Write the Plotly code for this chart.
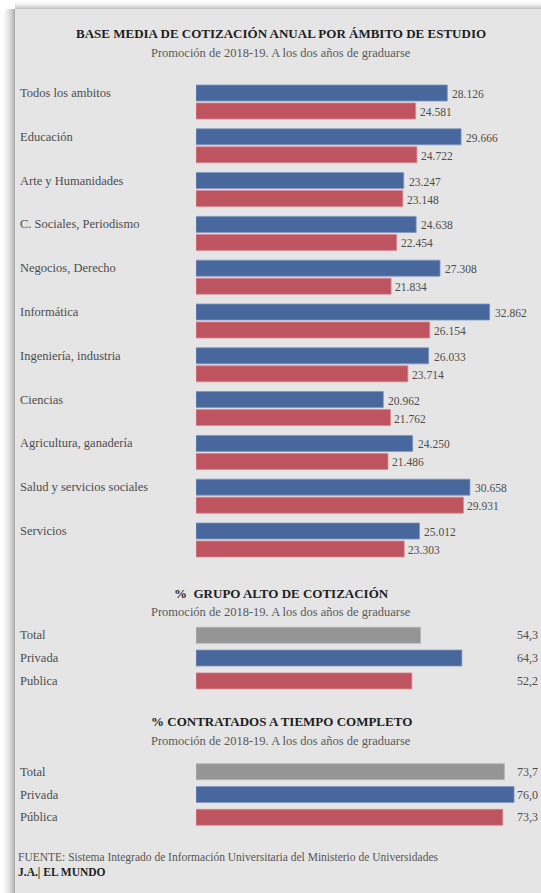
import plotly.graph_objects as go

W, H = 541, 893

# ---------------- data ----------------
ambitos = ["Todos los ambitos", "Educación", "Arte y Humanidades", "C. Sociales, Periodismo",
           "Negocios, Derecho", "Informática", "Ingeniería, industria", "Ciencias",
           "Agricultura, ganadería", "Salud y servicios sociales", "Servicios"]
privada = [28126, 29666, 23247, 24638, 27308, 32862, 26033, 20962, 24250, 30658, 25012]
publica = [24581, 24722, 23148, 22454, 21834, 26154, 23714, 21762, 21486, 29931, 23303]

grupo_cats = ["Total", "Privada", "Publica"]
grupo_vals = [54.3, 64.3, 52.2]

completo_cats = ["Total", "Privada", "Pública"]
completo_vals = [73.7, 76.0, 73.3]

titles = ["BASE MEDIA DE COTIZACIÓN ANUAL POR ÁMBITO DE ESTUDIO",
          "%  GRUPO ALTO DE COTIZACIÓN",
          "% CONTRATADOS A TIEMPO COMPLETO"]
subtitle = "Promoción de 2018-19. A los dos años de graduarse"
fuente = "FUENTE: Sistema Integrado de Información Universitaria del Ministerio de Universidades"
firma = "J.A.| EL MUNDO"

# ---------------- style ----------------
BLUE = "#47679d"
RED = "#bd5460"
GREY = "#959595"
BLUE_EDGE = "#7d95c2"
RED_EDGE = "#d98790"
GREY_EDGE = "#b5b5b5"
PANEL = "#e5e5e5"
FONT = "Liberation Serif"
TXT = "#4d4d4d"
DARK = "#1e1e1e"


def px(x):
    return x / W


def py(y):
    return 1 - y / H


fig = go.Figure()

# chart 1
pitch1 = 43.8
fig.add_trace(go.Bar(orientation="h", y=ambitos, x=privada, xaxis="x", yaxis="y",
                     marker=dict(color=BLUE, line=dict(color=BLUE_EDGE, width=0.8)),
                     width=16 / pitch1, offset=-17 / pitch1, hoverinfo="skip", showlegend=False))
fig.add_trace(go.Bar(orientation="h", y=ambitos, x=publica, xaxis="x", yaxis="y",
                     marker=dict(color=RED, line=dict(color=RED_EDGE, width=0.8)),
                     width=16 / pitch1, offset=1 / pitch1, hoverinfo="skip", showlegend=False))

# chart 2
fig.add_trace(go.Bar(orientation="h", y=grupo_cats, x=grupo_vals, xaxis="x2", yaxis="y2",
                     marker=dict(color=[GREY, BLUE, RED],
                                 line=dict(color=[GREY_EDGE, BLUE_EDGE, RED_EDGE], width=0.8)),
                     width=0.70, hoverinfo="skip", showlegend=False))
# chart 3
fig.add_trace(go.Bar(orientation="h", y=completo_cats, x=completo_vals, xaxis="x3", yaxis="y3",
                     marker=dict(color=[GREY, BLUE, RED],
                                 line=dict(color=[GREY_EDGE, BLUE_EDGE, RED_EDGE], width=0.8)),
                     width=0.70, hoverinfo="skip", showlegend=False))

hidden = dict(showgrid=False, zeroline=False, showticklabels=False, showline=False, ticks="",
              fixedrange=True)

fig.update_layout(
    width=W, height=H,
    margin=dict(l=0, r=0, t=0, b=0),
    paper_bgcolor="white",
    plot_bgcolor="rgba(0,0,0,0)",
    barmode="overlay",
    separators=",.",
    xaxis=dict(domain=[px(196), px(196 + 36 * 8.935)], range=[0, 36000], anchor="y", **hidden),
    yaxis=dict(domain=[py(80.1 + 11 * pitch1), py(80.1)], range=[10.5, -0.5], anchor="x",
               type="category", **hidden),
    xaxis2=dict(domain=[px(196), px(196 + 80 * 4.135)], range=[0, 80], anchor="y2", **hidden),
    yaxis2=dict(domain=[py(692.3), py(623.8)], range=[2.5, -0.5], anchor="x2",
                type="category", **hidden),
    xaxis3=dict(domain=[px(196), px(196 + 80 * 4.185)], range=[0, 80], anchor="y3", **hidden),
    yaxis3=dict(domain=[py(828.7), py(760.3)], range=[2.5, -0.5], anchor="x3",
                type="category", **hidden),
)

# ---------------- background panel + shadow ----------------
shapes = []
for i in range(15):
    a = 0.42 * ((i + 1) / 15) ** 2.2
    shapes.append(dict(type="rect", xref="paper", yref="paper", x0=px(i), x1=px(i + 1),
                       y0=0, y1=py(9 + max(0, 6 - i)), line=dict(width=0),
                       fillcolor=f"rgba(60,60,60,{a:.3f})", layer="below"))
for j in range(9):
    a = 0.30 * ((j + 1) / 9) ** 2.2
    shapes.append(dict(type="rect", xref="paper", yref="paper", x0=px(15), x1=1,
                       y0=py(j + 1), y1=py(j), line=dict(width=0),
                       fillcolor=f"rgba(60,60,60,{a:.3f})", layer="below"))
shapes.append(dict(type="rect", xref="paper", yref="paper", x0=px(15), x1=1,
                   y0=0, y1=py(9), line=dict(width=0), fillcolor=PANEL, layer="below"))
fig.update_layout(shapes=shapes)

# ---------------- text ----------------
ann = []
CX = px(281)


def title(text, y, size=13):
    ann.append(dict(text=f"<b>{text}</b>", xref="paper", yref="paper", x=CX, y=py(y),
                    xanchor="center", yanchor="middle", showarrow=False,
                    font=dict(family=FONT, size=size, color=DARK)))


def sub(y):
    ann.append(dict(text=subtitle, xref="paper", yref="paper", x=CX, y=py(y),
                    xanchor="center", yanchor="middle", showarrow=False,
                    font=dict(family=FONT, size=12.5, color="#5a5a5a")))


title(titles[0], 33)
sub(53)
title(titles[1], 593)
sub(612)
title(titles[2], 721)
sub(741)

for cat, vb, vr in zip(ambitos, privada, publica):
    ann.append(dict(text=cat, xref="paper", yref="y", x=px(18), y=cat, yshift=9,
                    xanchor="left", yanchor="middle", showarrow=False,
                    font=dict(family=FONT, size=12.5, color=TXT)))
    ann.append(dict(text=f"{vb:,}".replace(",", "."), xref="x", yref="y", x=vb, y=cat,
                    xshift=3, yshift=8, xanchor="left", yanchor="middle", showarrow=False,
                    font=dict(family=FONT, size=11.5, color=TXT)))
    ann.append(dict(text=f"{vr:,}".replace(",", "."), xref="x", yref="y", x=vr, y=cat,
                    xshift=2, yshift=-10, xanchor="left", yanchor="middle", showarrow=False,
                    font=dict(family=FONT, size=11.5, color=TXT)))

for cats, vals, yr in ((grupo_cats, grupo_vals, "y2"), (completo_cats, completo_vals, "y3")):
    for c, v in zip(cats, vals):
        ann.append(dict(text=c, xref="paper", yref=yr, x=px(18), y=c, yshift=0,
                        xanchor="left", yanchor="middle", showarrow=False,
                        font=dict(family=FONT, size=12.5, color=TXT)))
        ann.append(dict(text=f"{v:.1f}".replace(".", ","), xref="paper", yref=yr, x=px(540),
                        y=c, xanchor="right", yanchor="middle", showarrow=False,
                        font=dict(family=FONT, size=12, color=TXT)))

ann.append(dict(text=f"<span style='color:#555555'>{fuente}</span><br><b>{firma}</b>",
                xref="paper", yref="paper", x=px(16), y=py(865), align="left",
                xanchor="left", yanchor="middle", showarrow=False,
                font=dict(family=FONT, size=11.5, color=DARK)))

fig.update_layout(annotations=ann)

fig.write_html("out.html", config={"displayModeBar": False},
               post_script="document.body.style.margin='0';document.body.style.overflow='hidden';")
